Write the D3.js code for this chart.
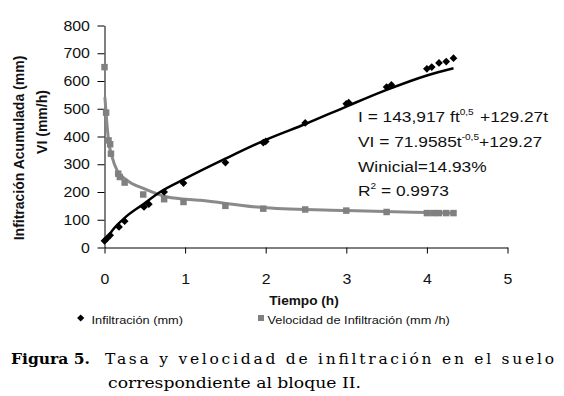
<!DOCTYPE html>
<html>
<head>
<meta charset="utf-8">
<script src="https://cdn.jsdelivr.net/npm/d3@7/dist/d3.min.js"></script>
<style>
  body { margin: 0; background: #fff; }
  svg { display: block; }
</style>
</head>
<body>
<div id="chart"></div>
<script>
// Infiltración acumulada (mm), puntos medidos
const infT = [0, 0.03, 0.07, 0.18, 0.25, 0.49, 0.55, 0.74, 0.98, 1.5, 1.97, 2.0, 2.49, 3.0, 3.03, 3.5, 3.56, 4.0, 4.06, 4.15, 4.24, 4.33];
const infV = [24, 32, 44, 74, 95, 146, 156, 200, 232, 306, 378, 382, 449, 518, 522, 578, 586, 644, 650, 665, 670, 682];
// curva ajustada de infiltración
const infFitT = [0.01, 0.07, 0.24, 0.49, 0.69, 1, 1.5, 2, 2.5, 3, 3.5, 4, 4.33];
const infFitV = [18, 50, 104, 158, 200, 248, 320, 388, 446, 508, 568, 620, 646];

// Velocidad de infiltración (mm/h)
const velT = [0, 0.02, 0.05, 0.07, 0.08, 0.17, 0.19, 0.25, 0.48, 0.74, 0.98, 1.5, 1.97, 2.49, 3.0, 3.5, 4.0, 4.08, 4.15, 4.24, 4.33];
const velV = [650, 486, 386, 372, 338, 266, 254, 234, 191, 174, 164, 150, 140, 137, 133, 128, 124, 124, 124, 124, 124];
const velFitT = [0.005, 0.02, 0.05, 0.095, 0.156, 0.28, 0.49, 0.78, 1.19, 2, 3, 4, 4.33];
const velFitV = [542, 482, 386, 326, 278, 242, 212, 182, 170, 143, 133, 126, 124];

const xTicks = [0, 1, 2, 3, 4, 5];
const yTicks = [0, 100, 200, 300, 400, 500, 600, 700, 800];

const W = 564, H = 396;
const SX = 1.12; // el original está algo estirado en horizontal
const sans = "Arial, 'Liberation Sans', Helvetica, sans-serif";
const serif = "'DejaVu Serif', 'Liberation Serif', serif";

const svg = d3.select("#chart").append("svg")
  .attr("width", W).attr("height", H)
  .style("background", "#fff");

const x = d3.scaleLinear().domain([0, 5]).range([104.5, 507.5]);
const y = d3.scaleLinear().domain([0, 800]).range([247.5, 25.5]);

// ejes
const gx = svg.append("g")
  .attr("transform", `translate(0,${y(0)})`)
  .call(d3.axisBottom(x).tickValues(xTicks).tickFormat(d3.format("d"))
    .tickSize(6).tickSizeOuter(0).tickPadding(20));
const gy = svg.append("g")
  .attr("transform", `translate(${x(0)},0)`)
  .call(d3.axisLeft(y).tickValues(yTicks).tickSize(7).tickSizeOuter(0).tickPadding(6));

[gx, gy].forEach(g => {
  g.selectAll("path, line").attr("stroke", "#000").attr("stroke-width", 1);
  g.selectAll("text")
    .attr("font-family", sans).attr("font-size", 14.2).attr("fill", "#111")
    .attr("transform", `scale(${SX},1)`);
});

// curvas ajustadas
const line = d3.line().x(d => x(d[0])).y(d => y(d[1])).curve(d3.curveMonotoneX);
svg.append("path")
  .datum(velFitT.map((t, i) => [t, velFitV[i]]))
  .attr("d", line).attr("fill", "none")
  .attr("stroke", "#8a8a8a").attr("stroke-width", 3);
svg.append("path")
  .datum(infFitT.map((t, i) => [t, infFitV[i]]))
  .attr("d", line).attr("fill", "none")
  .attr("stroke", "#000").attr("stroke-width", 2.5);

// marcadores
const square = d3.symbol().type(d3.symbolSquare).size(42);
const diamond = d3.symbol().type(d3.symbolSquare).size(30);

svg.append("g").selectAll("path")
  .data(velT.map((t, i) => [t, velV[i]]))
  .join("path")
  .attr("d", square)
  .attr("transform", d => `translate(${x(d[0])},${y(d[1])})`)
  .attr("fill", "#808080");

svg.append("g").selectAll("path")
  .data(infT.map((t, i) => [t, infV[i]]))
  .join("path")
  .attr("d", diamond)
  .attr("transform", d => `translate(${x(d[0])},${y(d[1])}) rotate(45)`)
  .attr("fill", "#000");

// texto con estiramiento horizontal
function stretched(px, py, size, weight) {
  return svg.append("g").attr("transform", `translate(${px},${py}) scale(${SX},1)`)
    .append("text")
    .attr("font-family", sans).attr("font-size", size)
    .attr("font-weight", weight || "normal").attr("fill", "#111");
}

// ecuaciones
const ann = 15.5;
let t1 = stretched(358, 122, ann);
t1.append("tspan").text("I = 143,917 ft");
t1.append("tspan").attr("dy", -7).attr("font-size", 9).text("0,5");
t1.append("tspan").attr("x", 109).attr("dy", 7).text("+129.27t");

let t2 = stretched(358, 147, ann);
t2.append("tspan").text("VI = 71.9585t");
t2.append("tspan").attr("dy", -7).attr("font-size", 9).text("-0,5");
t2.append("tspan").attr("dy", 7).text("+129.27");

stretched(358, 171.5, ann).text("Winicial=14.93%");

let t4 = stretched(358, 196, ann);
t4.append("tspan").text("R");
t4.append("tspan").attr("dy", -7).attr("font-size", 9).text("2");
t4.append("tspan").attr("dy", 7).text(" = 0.9973");

// títulos de ejes
stretched(304, 305, 12.2, "bold").attr("text-anchor", "middle").text("Tiempo (h)");

svg.append("text")
  .attr("transform", "translate(24,148) rotate(-90)")
  .attr("text-anchor", "middle")
  .attr("font-family", sans).attr("font-size", 14).attr("font-weight", "bold")
  .attr("fill", "#111")
  .text("Infitración Acumulada (mm)");
svg.append("text")
  .attr("transform", "translate(47,122) rotate(-90)")
  .attr("text-anchor", "middle")
  .attr("font-family", sans).attr("font-size", 14).attr("font-weight", "bold")
  .attr("fill", "#111")
  .text("VI (mm/h)");

// leyenda
svg.append("path").attr("d", d3.symbol().type(d3.symbolSquare).size(26))
  .attr("transform", "translate(80.7,318) rotate(45)").attr("fill", "#000");
stretched(91.5, 323.5, 11.4).text("Infiltración (mm)");
svg.append("path").attr("d", d3.symbol().type(d3.symbolSquare).size(36))
  .attr("transform", "translate(261,318)").attr("fill", "#808080");
stretched(267.5, 323.5, 11.4).text("Velocidad de Infiltración (mm /h)");

// pie de figura
svg.append("text")
  .attr("x", 11).attr("y", 364)
  .attr("font-family", serif).attr("font-size", 15.5).attr("font-weight", "bold")
  .attr("fill", "#000")
  .attr("textLength", 79).attr("lengthAdjust", "spacingAndGlyphs")
  .text("Figura 5.");
svg.append("text")
  .attr("x", 105).attr("y", 364)
  .attr("font-family", serif).attr("font-size", 15.5)
  .attr("fill", "#000")
  .attr("textLength", 449).attr("lengthAdjust", "spacing")
  .text("Tasa y velocidad de infiltración en el suelo");
svg.append("text")
  .attr("x", 108).attr("y", 388)
  .attr("font-family", serif).attr("font-size", 15.5)
  .attr("fill", "#000")
  .attr("textLength", 253).attr("lengthAdjust", "spacingAndGlyphs")
  .text("correspondiente al bloque II.");
</script>
</body>
</html>
